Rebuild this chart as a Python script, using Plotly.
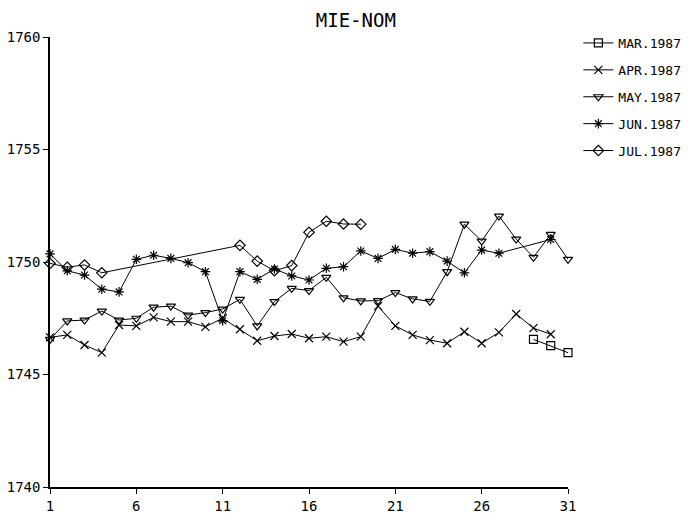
import plotly.graph_objects as go

# Daily MIE-NOM readings by month (day of month -> value)
mar_days = [29, 30, 31]
mar_vals = [1746.56, 1746.28, 1745.97]

apr_days = list(range(1, 31))
apr_vals = [1746.65, 1746.76, 1746.31, 1745.97, 1747.20, 1747.16, 1747.54, 1747.35,
            1747.35, 1747.12, 1747.50, 1747.01, 1746.50, 1746.71, 1746.80, 1746.61,
            1746.68, 1746.46, 1746.68, 1748.04, 1747.16, 1746.76, 1746.53, 1746.39,
            1746.90, 1746.39, 1746.87, 1747.69, 1747.06, 1746.79]

may_days = list(range(1, 32))
may_vals = [1746.56, 1747.38, 1747.42, 1747.82, 1747.42, 1747.50, 1747.99, 1748.04,
            1747.64, 1747.75, 1747.91, 1748.34, 1747.16, 1748.24, 1748.83, 1748.73,
            1749.32, 1748.41, 1748.27, 1748.28, 1748.64, 1748.36, 1748.25, 1749.57,
            1751.68, 1750.93, 1752.04, 1751.02, 1750.21, 1751.23, 1750.12]

jun_days = list(range(1, 28)) + [30]
jun_vals = [1750.36, 1749.61, 1749.42, 1748.79, 1748.67, 1750.12, 1750.30, 1750.16,
            1749.97, 1749.57, 1747.39, 1749.57, 1749.23, 1749.69, 1749.38, 1749.20,
            1749.72, 1749.79, 1750.49, 1750.16, 1750.56, 1750.39, 1750.46, 1750.04,
            1749.52, 1750.53, 1750.39, 1751.00]

jul_days = [1, 2, 3, 4, 12, 13, 14, 15, 16, 17, 18, 19]
jul_vals = [1749.94, 1749.77, 1749.87, 1749.52, 1750.74, 1750.04, 1749.61, 1749.84,
            1751.32, 1751.81, 1751.69, 1751.68]

x_ticks = [1, 6, 11, 16, 21, 26, 31]
y_ticks = [1740, 1745, 1750, 1755, 1760]

series = [
    ("MAR.1987", mar_days, mar_vals, "square-open", 8),
    ("APR.1987", apr_days, apr_vals, "x-thin-open", 8),
    ("MAY.1987", may_days, may_vals, "triangle-down-open", 8),
    ("JUN.1987", jun_days, jun_vals, "asterisk-open", 8),
    ("JUL.1987", jul_days, jul_vals, "diamond-open", 8),
]

FONT = "DejaVu Sans Mono"

fig = go.Figure()
for i, (name, xs, ys, sym, sz) in enumerate(series):
    fig.add_trace(go.Scatter(
        x=xs, y=ys, name=name, mode="lines+markers",
        line=dict(color="black", width=1),
        marker=dict(symbol=sym, size=sz, color="black",
                    line=dict(color="black", width=1.2)),
        cliponaxis=False, legendgroup=f"g{i}",
    ))

fig.update_layout(
    width=699, height=523,
    margin=dict(l=50, r=131, t=37, b=36, autoexpand=False),
    paper_bgcolor="white", plot_bgcolor="white",
    font=dict(family=FONT, color="black", size=12),
    title=dict(text="MIE-NOM", x=0.509, xanchor="center", y=0.962, yanchor="middle",
               font=dict(family=FONT, size=19, color="black")),
    showlegend=True,
    legend=dict(x=1.02, y=1.02, xanchor="left", yanchor="top",
                font=dict(family=FONT, size=13, color="black"),
                tracegroupgap=7, itemwidth=30, bgcolor="rgba(0,0,0,0)"),
    xaxis=dict(range=[1, 31], tickvals=x_ticks, ticktext=[str(v) for v in x_ticks],
               showgrid=False, zeroline=False, showline=True, linecolor="black",
               linewidth=1.5, ticks="outside", ticklen=5, tickcolor="black",
               automargin=False, tickfont=dict(family=FONT, size=14)),
    yaxis=dict(range=[1740, 1760], tickvals=y_ticks, ticktext=[str(v) for v in y_ticks],
               showgrid=False, zeroline=False, showline=True, linecolor="black",
               linewidth=1.5, ticks="outside", ticklen=5, tickcolor="black",
               automargin=False, tickfont=dict(family=FONT, size=14)),
)

fig.write_html("out.html")
